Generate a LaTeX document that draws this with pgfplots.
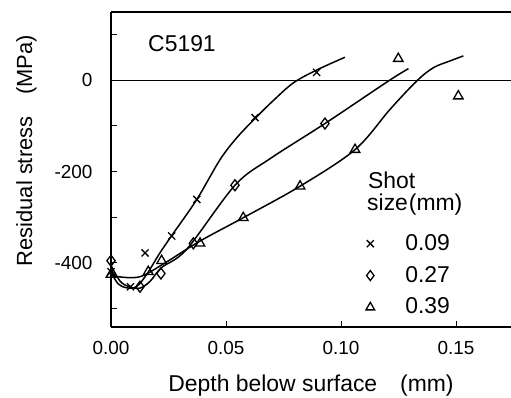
\documentclass[border=0pt]{standalone}
\usepackage{pgfplots}
\pgfplotsset{compat=1.18}
\usepackage{fontspec}
\setmainfont{Liberation Sans}
\begin{document}
\fontsize{19}{23}\selectfont
\begin{tikzpicture}
\useasboundingbox (-111bp,-71bp) rectangle (400bp,327bp);
\begin{axis}[
  scale only axis, width=400bp, height=315bp,
  xmin=0, xmax=0.1739, ymin=-540, ymax=149,
  axis x line*=box, axis y line*=left,
  axis line style={line width=1.3bp},
  xtick={0,0.05,0.1,0.15}, xticklabels={0.00,0.05,0.10,0.15},
  ytick={-400,-200,0}, yticklabels={-400,-200,0},
  minor ytick={-500,-300,-100,100},
  xtick pos=bottom, ytick pos=left,
  tick style={line width=1bp, black},
  major tick length=6bp, minor tick length=6bp,
  tick label style={font=\fontsize{19}{23}\selectfont},
  xticklabel style={yshift=-8bp},
  yticklabel style={xshift=-12bp},
  xlabel={Depth below surface\quad (mm)},
  xlabel style={at={(axis description cs:0.5,0)}, anchor=base, yshift=-64bp, font=\fontsize{23}{27}\selectfont},
  ylabel={Residual stress\quad (MPa)},
  ylabel style={at={(axis description cs:-0.1975,0.56)}, anchor=base, font=\fontsize{22}{26}\selectfont},
  legend style={at={(axis cs:0.1083,-328)}, anchor=north west, draw=none, fill=none,
    inner sep=0pt, row sep=5bp, font=\fontsize{23}{27}\selectfont,
    nodes={inner sep=4bp}},
  legend cell align=left,
  legend image code/.code={\path[mark repeat=2,mark phase=2,#1,only marks,mark size=5bp,mark options={line width=1.3bp,black,fill=white}] plot coordinates {(0bp,0bp) (10bp,0bp) (20bp,0bp)}; \path[draw=none] (0bp,0bp) -- (41bp,0bp);},
  clip=false,
]
% zero line
\addplot[black, line width=1.2bp, forget plot] coordinates {(0,0) (0.1739,0)};
% fitted curves
\addplot[black, line width=1.5bp, smooth, tension=0.55, forget plot] coordinates {
 (0,-420) (0.003,-445) (0.0065,-454) (0.011,-452) (0.0155,-425) (0.021,-380)
 (0.0264,-340) (0.0373,-261) (0.0474,-174) (0.0547,-126) (0.0626,-84) (0.0705,-45)
 (0.0793,-6) (0.0894,22) (0.1017,50)};
\addplot[black, line width=1.5bp, smooth, tension=0.55, forget plot] coordinates {
 (0,-405) (0.004,-440) (0.008,-452) (0.0126,-455) (0.017,-440) (0.022,-410)
 (0.0329,-370) (0.0539,-230) (0.0691,-172) (0.093,-95) (0.1206,-2) (0.1293,25)};
\addplot[black, line width=1.5bp, smooth, tension=0.55, forget plot] coordinates {
 (0,-425) (0.003,-430) (0.0126,-430) (0.0231,-401) (0.0387,-352) (0.0575,-301)
 (0.0822,-232) (0.1061,-152) (0.1213,-64) (0.1329,-2)
 (0.1401,27) (0.1474,42) (0.1532,53)};
% data points
\addplot[only marks, mark=x, mark size=5bp, mark options={line width=1.3bp, black}] coordinates {
 (0,-419) (0.0085,-452) (0.0148,-378) (0.0264,-341) (0.0373,-261) (0.0626,-82) (0.0894,17)};
\addlegendentry{0.09}
\addplot[only marks, mark=diamond, mark size=5.5bp, mark options={line width=1.3bp, black, fill=white}] coordinates {
 (0,-395) (0.0126,-452) (0.0217,-423) (0.0358,-357) (0.0539,-230) (0.093,-95)};
\addlegendentry{0.27}
\addplot[only marks, mark=triangle, mark size=5.5bp, mark options={line width=1.3bp, black, fill=white}] coordinates {
 (0,-425) (0.0162,-419) (0.022,-395) (0.0387,-357) (0.0575,-301) (0.0822,-232) (0.1061,-152) (0.1249,47) (0.151,-35)};
\addlegendentry{0.39}
\node[anchor=base west, inner sep=0pt, font=\fontsize{23}{27}\selectfont] at (axis cs:0.0161,63) {C5191};
\node[anchor=base west, inner sep=0pt, font=\fontsize{23}{27}\selectfont] at (axis cs:0.1117,-236) {Shot};
\node[anchor=base west, inner sep=0pt, font=\fontsize{23}{27}\selectfont] at (axis cs:0.1113,-286) {size\kern1bp(mm)};
\end{axis}
\end{tikzpicture}
\end{document}
